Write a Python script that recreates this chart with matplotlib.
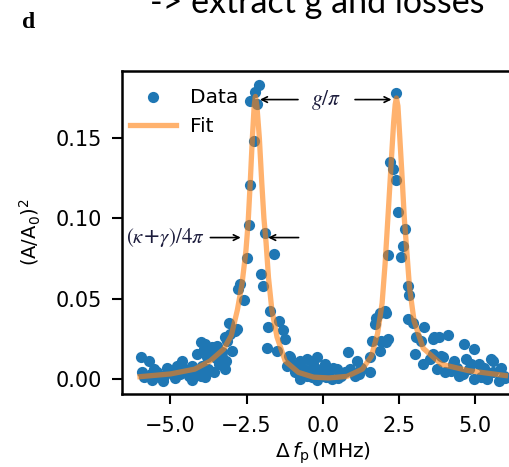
import matplotlib
matplotlib.use("Agg")
import matplotlib.pyplot as plt

data_x = [-5.97, -5.70, -5.92, -5.86, -5.54, -5.37, -5.26, -5.10, -4.93, -4.77, -4.61, -4.50, -4.28,
          -4.01, -4.12, -3.90, -3.79, -4.01, -3.58, -3.63, -3.46, -3.30, -3.19, -3.14, -3.03, -2.97,
          -3.08, -2.87, -3.87, -3.65, -3.32,
          -5.80, -5.65, -5.45, -5.20, -5.00, -4.85, -4.70, -4.40, -4.20, -3.95, -3.75, -3.40, -4.60,
          -5.60, -4.30, -3.85, -3.50, -3.20,
          -2.10, -2.21, -2.38, -2.15, -2.27, -2.38, -2.43, -1.89, -1.61, -2.48, -2.02, -1.97, -2.72,
          -2.78, -2.58, -1.72, -1.42, -1.31, -1.78, -1.83, -2.83, -3.22, -1.50, -1.23, -1.07, -0.96,
          -1.18,
          -0.74, -0.52, -0.31, -0.85, -0.63, -1.12, -0.20, 0.08, 0.84, 0.46, 0.73, 1.27, 1.55, 1.62,
          1.71, 1.76, -0.91, -0.74, -0.36, 0.29, 1.05, 0.35, 1.11, 1.55, 1.93, 2.09, 1.87, 1.87, 2.09,
          -0.50, -0.10, 0.10, 0.50, -0.20, 0.20, 0.60, 0.90, -0.40, 1.20, -0.05,
          2.42, 2.20, 2.31, 2.42, 2.47, 2.69, 2.63, 2.14, 2.58, 2.80, 2.85, 2.80, 2.04, 2.14, 3.07,
          3.34, 3.67, 4.10, 3.02, 3.51, 3.89, 4.65, 4.98, 4.32, 4.87, 5.52, 5.85, 4.00, 4.98, 5.41,
          5.79, 2.96, 3.24, 3.61, 3.83, 3.61, 3.94, 4.27, 4.71, 5.14, 5.58, 4.49, 5.36,
          4.20, 4.60, 5.20, 5.60, 5.95, 4.40, 3.75, 3.30, 4.80, 5.30, 6.00]
data_y = [0.0137, 0.0110, 0.0040, 0.0008, 0.0060, 0.0008, -0.0013, 0.0070, 0.0030, 0.0080, 0.0110, 0.0050, 0.0080,
          0.0227, 0.0154, 0.0186, 0.0133, 0.0019, 0.0040, 0.0196, 0.0206, 0.0164, 0.0112, 0.0237, 0.0280, 0.0175,
          0.0350, 0.0300, 0.0217, 0.0154, 0.0133,
          0.0020, 0.0030, 0.0040, 0.0020, 0.0040, 0.0005, 0.0030, 0.0020, 0.0040, 0.0080, 0.0060, 0.0090, 0.0065,
          -0.0010, -0.0005, 0.0010, 0.0130, 0.0060,
          0.1830, 0.1790, 0.1730, 0.1710, 0.1480, 0.1210, 0.0960, 0.0910, 0.0780, 0.0750, 0.0650, 0.0580, 0.0590,
          0.0560, 0.0490, 0.0420, 0.0360, 0.0305, 0.0320, 0.0190, 0.0310, 0.0260, 0.0175, 0.0250, 0.0133, 0.0092,
          0.0080,
          0.0110, 0.0123, 0.0092, 0.0050, 0.0060, 0.0144, 0.0133, 0.0092, 0.0164, 0.0060, 0.0040, 0.0070, 0.0040, 0.0237,
          0.0340, 0.0380, 0.0040, 0.0000, 0.0008, 0.0000, 0.0020, 0.0070, 0.0110, 0.0133, 0.0237, 0.0227, 0.0175, 0.0410, 0.0410,
          0.0020, 0.0030, 0.0010, 0.0005, -0.0010, 0.0040, 0.0020, 0.0060, 0.0050, 0.0030, 0.0060,
          0.1780, 0.1350, 0.1310, 0.1240, 0.1040, 0.0935, 0.0830, 0.0770, 0.0760, 0.0580, 0.0520, 0.0370, 0.0425, 0.0250, 0.0260,
          0.0320, 0.0260, 0.0270, 0.0154, 0.0123, 0.0144, 0.0217, 0.0186, 0.0110, 0.0092, 0.0123, 0.0070, 0.0040, 0.0000, 0.0000,
          -0.0013, 0.0350, 0.0237, 0.0250, 0.0260, 0.0154, 0.0133, 0.0092, 0.0123, 0.0092, 0.0110, 0.0020, 0.0030,
          0.0050, 0.0030, 0.0010, 0.0040, 0.0020, 0.0070, 0.0060, 0.0090, 0.0060, 0.0065, 0.0005]

# fitted curve
fit_x = [-6.0, -5.0, -4.2, -3.7, -3.25, -3.0, -2.8, -2.65, -2.52, -2.45, -2.38, -2.31, -2.25, -2.21,
         -2.16, -2.08, -2.0, -1.93, -1.86, -1.78, -1.67, -1.5, -1.23, -0.8, -0.3, 0.2, 0.8, 1.3, 1.6,
         1.8, 1.95, 2.05, 2.15, 2.25, 2.33, 2.38, 2.42, 2.47, 2.53, 2.6, 2.68, 2.76, 2.85, 3.0, 3.3,
         3.9, 4.8, 6.0]
fit_y = [0.0013, 0.003, 0.006, 0.011, 0.0185, 0.027, 0.043, 0.059, 0.080, 0.097, 0.122, 0.150, 0.170, 0.176,
         0.170, 0.150, 0.122, 0.100, 0.085, 0.063, 0.043, 0.026, 0.011, 0.004, 0.001, 0.0005, 0.0015, 0.006, 0.014,
         0.028, 0.047, 0.072, 0.103, 0.135, 0.160, 0.171, 0.175, 0.170, 0.151, 0.128, 0.100, 0.080, 0.057, 0.036, 0.019,
         0.009, 0.005, 0.002]

xticks = [-5.0, -2.5, 0.0, 2.5, 5.0]
yticks = [0.00, 0.05, 0.10, 0.15]

fig = plt.figure(figsize=(5.1, 4.67), dpi=100, facecolor='white')

# slide leftovers: cut-off title and panel letter
fig.text(150/510, 1 - 13/467, '-> extract g and losses', fontsize=24.5, family='Lato',
         ha='left', va='baseline', color='black')
fig.text(22/510, 1 - 28/467, 'd', fontsize=17, family='Liberation Serif', weight='bold',
         ha='left', va='baseline')

ax = fig.add_axes([121.7/510, 1 - 394/467, 402/510, 323.3/467])
ax.scatter(data_x, data_y, s=65, color='tab:blue', label='Data', zorder=2, linewidths=0)
ax.plot(fit_x, fit_y, color='tab:orange', alpha=0.6, lw=3.8, label='Fit', zorder=3)

ax.set_xlim(-6.6, 6.6)
ax.set_ylim(-0.0095, 0.192)
ax.set_xticks(xticks)
ax.set_yticks(yticks)
ax.set_xticklabels(['%.1f' % t if t >= 0 else '\u2212%.1f' % -t for t in xticks])
ax.set_yticklabels(['%.2f' % t for t in yticks])
ax.tick_params(labelsize=15, length=7, width=1.5)
ax.tick_params(axis='x', pad=9)
ax.tick_params(axis='y', pad=7)
for s in ax.spines.values():
    s.set_linewidth(1.8)

ax.set_xlabel(r'$\Delta\,f_\mathrm{p}\,$(MHz)', fontsize=14.5, labelpad=3)
ax.set_ylabel(r'$\mathregular{(A/A_0)^2}$', fontsize=14, labelpad=9)

ax.legend(loc='upper left', bbox_to_anchor=(0.0, 1 - 9/323.3), borderaxespad=0,
          frameon=False, fontsize=14.5, handlelength=2.3, labelspacing=0.5,
          handletextpad=0.7)

# annotations
arr = dict(arrowstyle='->', color='black', lw=1.2)
ax.annotate('', xy=(-2.15, 0.174), xytext=(-0.72, 0.174), arrowprops=arr)
ax.annotate('', xy=(2.35, 0.174), xytext=(0.97, 0.174), arrowprops=arr)
ax.text(0.12, 0.174, r'$g/\pi$', fontsize=15.5, math_fontfamily='stix',
        ha='center', va='center', color='#1c1c3c')
ax.annotate('', xy=(-2.6, 0.088), xytext=(-3.78, 0.088), arrowprops=arr)
ax.annotate('', xy=(-1.88, 0.088), xytext=(-0.7, 0.088), arrowprops=arr)
ax.text(-3.86, 0.088, r'$(\kappa$+$\gamma)/4\pi$', fontsize=15, math_fontfamily='stix',
        ha='right', va='center', color='#1c1c3c')

plt.savefig('out.png', dpi=100, facecolor=fig.get_facecolor())
